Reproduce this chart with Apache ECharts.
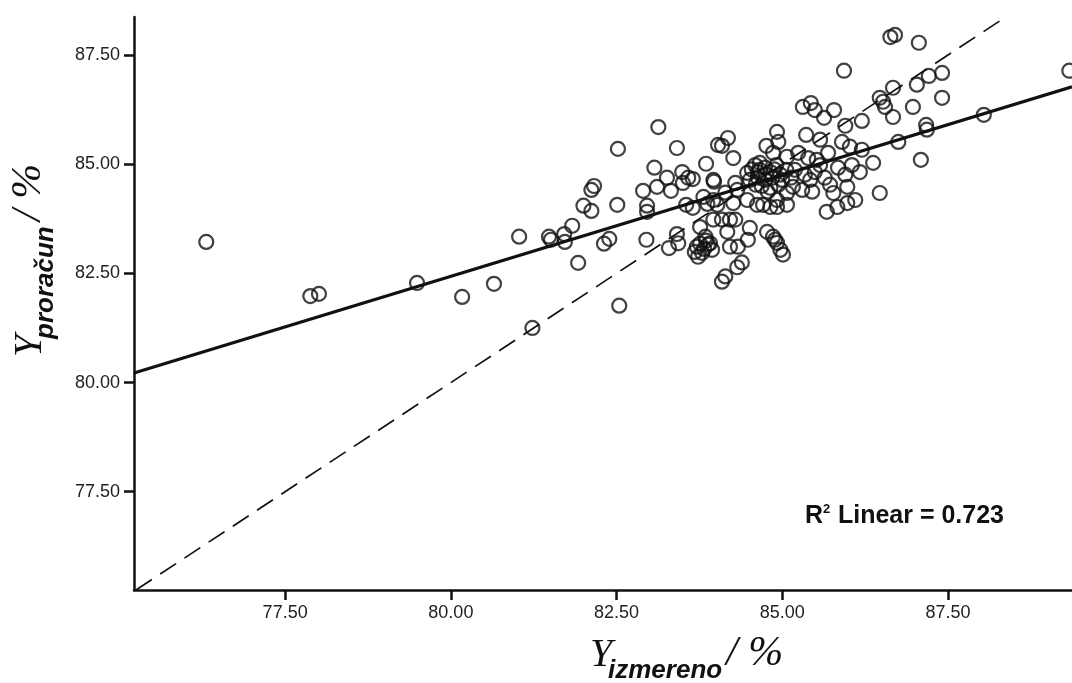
<!DOCTYPE html>
<html>
<head>
<meta charset="utf-8">
<script src="https://cdn.jsdelivr.net/npm/echarts@6/dist/echarts.min.js"></script>
<style>
  html, body { margin: 0; padding: 0; background: #fff; }
  #chart { width: 1072px; height: 683px; }
</style>
</head>
<body>
<div id="chart"></div>
<script>
// Tick positions shared by both axes
const tickValues = [77.5, 80, 82.5, 85, 87.5];
const xRange = [75.22, 89.37];
const yRange = [75.25, 88.37];

// Measured yield (x) and calculated yield (y), %
const measured = [
  76.31, 77.88, 78.01, 79.49, 80.17, 80.65, 81.03, 81.23, 81.48, 81.51,
  81.71, 81.72, 81.83, 81.92, 82.00, 82.12, 82.12, 82.16, 82.31, 82.39,
  82.52, 82.51, 82.54, 82.90, 82.95, 82.96, 82.96, 83.07, 83.11, 83.13,
  83.26, 83.32, 83.29, 83.41, 83.41, 83.43, 83.49, 83.50, 83.55, 83.65,
  83.71, 83.73, 83.76, 83.79, 83.84, 83.85, 83.87, 83.91, 83.96, 83.96,
  84.03, 84.09, 86.63, 86.70, 87.06, 85.93, 89.33, 87.41, 87.21, 87.03,
  86.67, 87.41, 86.97, 86.47, 86.52, 86.55, 86.67, 85.31, 85.43, 85.49,
  85.63, 85.78, 86.20, 85.95, 87.17, 87.18, 88.04, 86.75, 87.09, 86.37,
  86.47, 86.20, 86.02, 85.90, 85.36, 85.57, 84.92, 84.94, 84.76, 84.18,
  84.09, 84.26, 83.58, 83.97, 84.14, 84.29, 84.47, 84.66, 84.86, 85.07,
  85.24, 85.39, 85.52, 85.69, 85.67, 85.83, 85.98, 86.10, 85.98, 85.77,
  85.45, 85.01, 84.97, 84.92, 84.86, 84.39, 84.32, 84.14, 84.21, 84.33,
  84.48, 84.51, 84.77, 83.96, 84.09, 84.21, 84.29, 84.17, 84.71, 84.92,
  85.07, 85.16, 85.30, 84.47, 84.32, 83.65, 83.81, 84.02, 84.26, 84.62,
  84.82, 84.92, 85.07, 84.89, 84.59, 84.66, 84.74, 84.82, 84.63, 84.74,
  84.85, 84.97, 84.69, 84.82, 84.94, 85.06, 84.51, 84.91, 85.19, 85.34,
  85.49, 85.64, 85.84, 85.95, 86.05, 86.17, 85.42, 85.72, 85.57, 83.76,
  83.82, 83.88, 83.68, 84.63, 84.75, 84.88, 85.00, 84.60, 84.78, 85.13,
  84.54, 83.85, 83.94
];
const calculated = [
  83.22, 81.98, 82.03, 82.28, 81.96, 82.26, 83.34, 81.25, 83.34, 83.27,
  83.40, 83.22, 83.59, 82.74, 84.05, 83.93, 84.41, 84.50, 83.18, 83.29,
  85.35, 84.07, 81.76, 84.39, 83.27, 84.05, 83.91, 84.92, 84.48, 85.85,
  84.69, 84.39, 83.08, 85.37, 83.40, 83.19, 84.82, 84.57, 84.07, 84.66,
  83.11, 82.88, 83.56, 82.97, 83.34, 85.01, 84.09, 83.19, 84.64, 84.18,
  85.44, 82.31, 87.91, 87.96, 87.78, 87.14, 87.14, 87.09, 87.02, 86.82,
  86.75, 86.52, 86.31, 86.52, 86.43, 86.31, 86.08, 86.31, 86.40, 86.24,
  86.06, 86.24, 85.99, 85.88, 85.90, 85.79, 86.13, 85.51, 85.10, 85.03,
  84.34, 85.33, 85.40, 85.51, 85.67, 85.56, 85.74, 85.51, 85.42, 85.60,
  85.42, 85.14, 84.69, 84.60, 84.35, 84.57, 84.80, 85.03, 85.26, 85.17,
  85.26, 85.14, 85.10, 85.26, 83.91, 84.02, 84.11, 84.18, 84.48, 84.34,
  84.37, 82.93, 83.04, 83.20, 83.34, 82.75, 82.64, 82.43, 83.11, 83.11,
  83.27, 83.54, 83.45, 83.73, 83.73, 83.73, 83.73, 83.45, 84.07, 84.18,
  84.34, 84.48, 84.41, 84.18, 84.41, 84.00, 84.25, 84.07, 84.11, 84.07,
  84.02, 84.02, 84.07, 83.27, 84.98, 84.87, 84.92, 84.82, 84.69, 84.64,
  84.69, 84.76, 84.50, 84.46, 84.53, 84.87, 84.64, 84.98, 84.87, 84.76,
  84.82, 84.69, 84.92, 84.76, 84.98, 84.82, 84.64, 84.53, 84.98, 83.18,
  83.06, 83.16, 82.99, 84.82, 84.76, 84.88, 84.64, 84.53, 84.37, 84.69,
  84.88, 83.25, 83.04
];

// Linear fit (solid) and the y = x reference (dashed), end points
const fitLine = [[75.22, 80.22], [89.37, 86.77]];
const identityLine = [[75.25, 75.25], [88.37, 88.37]];
const r2Value = '0.723';

const points = measured.map((x, i) => [x, calculated[i]]);

const ink = '#111';
const labelFont = '"Liberation Sans", Arial, sans-serif';
const serifFont = '"Liberation Serif", "Times New Roman", serif';

function axisTitle(x, y, rotation, sub) {
  return {
    type: 'group', x: x, y: y, rotation: rotation,
    children: [
      { type: 'text', x: 0, y: 0,
        style: { text: 'Y', font: 'italic 40px ' + serifFont, fill: ink, verticalAlign: 'middle', align: 'left' } },
      { type: 'text', x: 18, y: 16,
        style: { text: sub, font: 'italic bold 26px ' + labelFont, fill: ink, verticalAlign: 'middle', align: 'left' } },
      { type: 'text', x: 136, y: -1,
        style: { text: '/ %', font: 'italic 42px ' + serifFont, fill: ink, verticalAlign: 'middle', align: 'left' } }
    ]
  };
}

const axisCommon = {
  type: 'value',
  axisLine: { show: true, onZero: false, lineStyle: { color: ink, width: 2.5 } },
  axisTick: { show: true, customValues: tickValues, length: 10, lineStyle: { color: ink, width: 2.5 } },
  axisLabel: {
    customValues: tickValues,
    formatter: v => v.toFixed(2),
    color: '#222', fontFamily: labelFont, fontSize: 18
  },
  splitLine: { show: false }
};

const chart = echarts.init(document.getElementById('chart'), null, { renderer: 'canvas' });
chart.setOption({
  animation: false,
  backgroundColor: '#fff',
  grid: { left: 134, right: 0, top: 17, bottom: 93, outerBoundsMode: 'none' },
  xAxis: Object.assign({}, axisCommon, {
    min: xRange[0], max: xRange[1],
    axisLabel: Object.assign({}, axisCommon.axisLabel, { margin: 14 })
  }),
  yAxis: Object.assign({}, axisCommon, {
    min: yRange[0], max: yRange[1],
    axisLabel: Object.assign({}, axisCommon.axisLabel, { margin: 14 })
  }),
  series: [
    {
      type: 'line', data: identityLine, symbol: 'none', silent: true,
      lineStyle: { color: ink, width: 1.7, type: [19, 10] }, z: 2
    },
    {
      type: 'scatter', data: points, symbol: 'circle', symbolSize: 14,
      itemStyle: { color: 'rgba(255,255,255,0)', borderColor: ink, borderWidth: 2.2 }, z: 3
    },
    {
      type: 'line', data: fitLine, symbol: 'none', silent: true,
      lineStyle: { color: ink, width: 3.2 }, z: 4
    }
  ],
  graphic: [
    axisTitle(590, 655, 0, 'izmereno'),
    axisTitle(30, 357, Math.PI / 2, 'proračun'),
    {
      type: 'group', x: 805, y: 516,
      children: [
        { type: 'text', x: 0, y: 0,
          style: { text: 'R', font: 'bold 25px ' + labelFont, fill: ink, verticalAlign: 'middle' } },
        { type: 'text', x: 18, y: -7,
          style: { text: '2', font: 'bold 13px ' + labelFont, fill: ink, verticalAlign: 'middle' } },
        { type: 'text', x: 26, y: 0,
          style: { text: ' Linear = ' + r2Value, font: 'bold 25px ' + labelFont, fill: ink, verticalAlign: 'middle' } }
      ]
    }
  ]
});
</script>
</body>
</html>
